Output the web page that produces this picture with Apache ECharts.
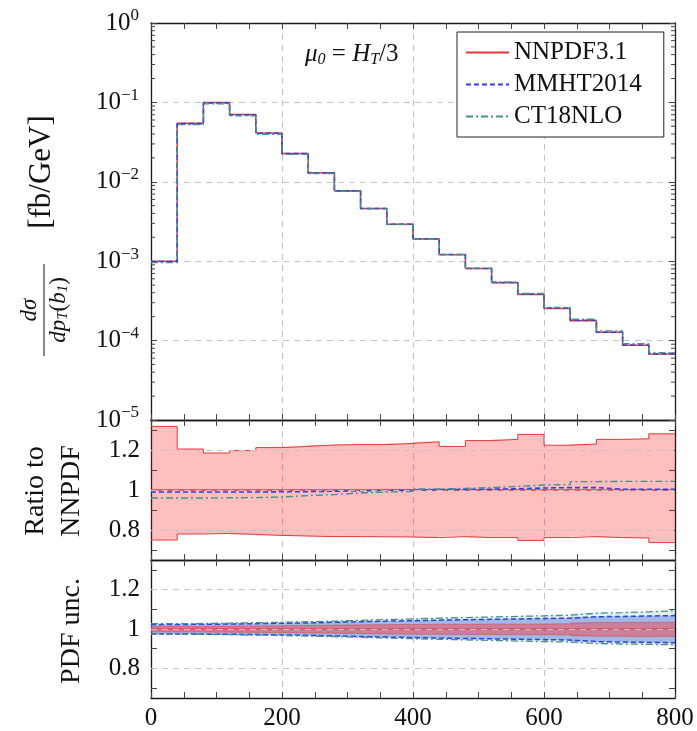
<!DOCTYPE html>
<html><head><meta charset="utf-8">
<script src="https://cdn.jsdelivr.net/npm/echarts@6/dist/echarts.min.js"></script>
<style>html,body{margin:0;padding:0;background:#fff}#c{width:697px;height:731px}</style>
</head><body><div id="c"></div>
<script>
// ---------- data ----------
const binEdges = [0,40,80,120,160,200,240,280,320,360,400,440,480,520,560,600,640,680,720,760,800];
const nnpdf = [1.0e-3,0.0546,0.0997,0.0703,0.0412,0.0228,0.0130,0.00772,0.00461,0.00292,0.00191,0.00121,0.000807,0.000537,0.000382,0.000254,0.000178,0.000127,0.0000877,0.0000676];
const ratioNNPDF = [1,1,1,1,1,1,1,1,1,1,1,1,1,1,1,1,1,1,1,1];
const ratioMMHT = [0.99,0.99,0.99,0.99,0.991,0.992,0.994,0.996,0.998,0.999,1.002,1.003,1.004,1.006,1.01,1.012,1.012,1.004,1.003,1.003];
const ratioCT18 = [0.96,0.96,0.961,0.962,0.965,0.972,0.977,0.985,0.99,0.993,1.005,1.008,1.012,1.018,1.025,1.027,1.042,1.043,1.043,1.043];
const scaleUp = [1.318,1.205,1.185,1.197,1.212,1.218,1.225,1.227,1.227,1.233,1.241,1.218,1.247,1.253,1.278,1.224,1.23,1.253,1.256,1.281];
const scaleDown = [0.75,0.78,0.783,0.778,0.773,0.77,0.767,0.767,0.766,0.765,0.762,0.767,0.762,0.762,0.748,0.762,0.767,0.762,0.76,0.737];
const nnpdfPdfUp = [1.013,1.013,1.014,1.015,1.016,1.018,1.019,1.021,1.022,1.023,1.024,1.024,1.025,1.025,1.025,1.026,1.033,1.033,1.034,1.034];
const nnpdfPdfDown = [0.985,0.985,0.984,0.983,0.982,0.98,0.979,0.977,0.975,0.974,0.973,0.973,0.972,0.971,0.971,0.97,0.963,0.963,0.962,0.962];
const mmhtPdfUp = [1.023,1.024,1.025,1.027,1.029,1.031,1.034,1.037,1.04,1.042,1.045,1.047,1.049,1.051,1.053,1.055,1.062,1.064,1.066,1.068];
const mmhtPdfDown = [0.975,0.974,0.973,0.972,0.97,0.968,0.965,0.962,0.959,0.957,0.954,0.952,0.95,0.948,0.946,0.944,0.936,0.934,0.932,0.93];
const ct18PdfUp = [1.027,1.028,1.03,1.032,1.034,1.037,1.04,1.044,1.048,1.051,1.055,1.058,1.061,1.064,1.067,1.07,1.08,1.083,1.087,1.092];
const ct18PdfDown = [0.974,0.973,0.971,0.969,0.967,0.964,0.961,0.958,0.954,0.951,0.948,0.945,0.942,0.939,0.936,0.934,0.926,0.924,0.922,0.92];
const ratioTickValues = [0.7,0.8,0.9,1,1.1,1.2,1.3];
const ratioLabelValues = [0.8,1,1.2];
const ratioGridValues = [0.8,1,1.2];
const logMinorMantissas = [2,3,4,5,6,7,8,9];
const logDecades = [1e-5,1e-4,1e-3,1e-2,1e-1];
const legendNames = ['NNPDF3.1','MMHT2014','CT18NLO'];

// ---------- helpers ----------
const FONT = 'Liberation Serif';
const RED = '#e23a3a', BLUE = '#2f3fe0', TEAL = '#43918b';
const stepData = vals => vals.map((v,i)=>[binEdges[i], v]).concat([[binEdges[binEdges.length-1], vals[vals.length-1]]]);
const mul = (a,b) => a.map((v,i)=>v*b[i]);
const minorLogTicks = [];
logDecades.forEach(d => logMinorMantissas.forEach(m => minorLogTicks.push([0, m*d])));

const grids = [
  {left:151, top:23, width:524, height:397},
  {left:151, top:420, width:524, height:140},
  {left:151, top:560, width:524, height:140}
];
const axisLineStyle = {color:'#1a1a1a', width:1.3};
const xAxes = [];
grids.forEach((g, gi) => {
  ['bottom','top'].forEach(pos => {
    xAxes.push({
      type:'value', gridIndex:gi, position:pos, min:0, max:800, interval:200,
      axisLine:{show:true, onZero:false, lineStyle:axisLineStyle},
      axisTick:{show:true, inside:true, length:6, lineStyle:{color:'#444', width:1}},
      minorTick:{show:true, splitNumber:4, length:6, lineStyle:{color:'#444', width:1}},
      splitLine:{show: pos==='bottom', lineStyle:{type:[6,5], color:'#c4c4c4', width:1.1}},
      axisLabel:{show: gi===2 && pos==='bottom', fontFamily:FONT, fontSize:25, color:'#111', margin:8}
    });
  });
});
const supRich = {
  b:{fontFamily:FONT, fontSize:25, color:'#111'},
  s:{fontFamily:FONT, fontSize:17, color:'#111', padding:[0,0,14,0]}
};
const yAxes = [];
['left','right'].forEach(pos => {
  yAxes.push({
    type:'log', logBase:10, gridIndex:0, position:pos, min:1e-5, max:1,
    axisLine:{show:true, onZero:false, lineStyle:axisLineStyle},
    axisTick:{show:true, inside:true, length:6, lineStyle:{color:'#444', width:1}},
    splitLine:{show: pos==='left', lineStyle:{type:[6,5], color:'#c4c4c4', width:1.1}},
    axisLabel:{show: pos==='left', margin:12, rich:supRich,
      formatter: v => { const e = Math.round(Math.log10(v)); return '{b|10}{s|' + (e<0 ? '\u2212' + (-e) : e) + '}'; }}
  });
});
[1,2].forEach(gi => {
  ['left','right'].forEach(pos => {
    yAxes.push({
      type:'value', gridIndex:gi, position:pos, min:0.65, max:1.35,
      axisLine:{show:true, onZero:false, lineStyle:axisLineStyle},
      axisTick:{show:true, inside:true, length:6, customValues:ratioTickValues, lineStyle:{color:'#444', width:1}},
      splitLine:{show:false},
      axisLabel:{show: pos==='left', customValues:ratioLabelValues, margin:11, fontFamily:FONT, fontSize:25, color:'#111',
        formatter: v => (Math.abs(v-1)<1e-9 ? '1' : v.toFixed(1))}
    });
  });
});
const gridMarkLine = {
  silent:true, symbol:'none', label:{show:false},
  lineStyle:{type:[6,5], color:'#c4c4c4', width:1.1},
  data: ratioGridValues.map(v=>({yAxis:v}))
};
function line(name, gi, data, color, type, width, extra) {
  return Object.assign({
    name, type:'line', xAxisIndex:2*gi, yAxisIndex:2*gi, data:stepData(data), step:'end',
    symbol:'none', showSymbol:false, animation:false,
    lineStyle:{color, type, width}, itemStyle:{color}
  }, extra || {});
}
function bandFill(name, gi, up, down, fill) {
  return {
    name, type:'custom', xAxisIndex:2*gi, yAxisIndex:2*gi, silent:true, animation:false,
    data: up.map((u,i)=>[binEdges[i], binEdges[i+1], down[i], u]),
    encode:{x:[0,1], y:[2,3]},
    renderItem:(params, api) => {
      const p0 = api.coord([api.value(0), api.value(3)]);
      const p1 = api.coord([api.value(1), api.value(2)]);
      const x0 = Math.round(p0[0]), x1 = Math.round(p1[0]);
      return {type:'rect', shape:{x:x0, y:p0[1], width:x1-x0, height:p1[1]-p0[1]}, style:{fill}};
    }
  };
}
const series = [
  // top panel
  line('NNPDF3.1', 0, nnpdf, RED, 'solid', 1.5),
  line('MMHT2014', 0, mul(nnpdf, ratioMMHT), BLUE, [5,3], 1.6),
  line('CT18NLO', 0, mul(nnpdf, ratioCT18), TEAL, [7,3,2,3], 1.4),
  {
    name:'logMinor', type:'custom', xAxisIndex:0, yAxisIndex:0, data:minorLogTicks, silent:true, animation:false,
    renderItem:(params, api) => {
      const v = api.value(1);
      const a = api.coord([0, v]), b = api.coord([800, v]);
      return {type:'group', children:[
        {type:'line', shape:{x1:a[0], y1:a[1], x2:a[0]+4, y2:a[1]}, style:{stroke:'#444', lineWidth:1}},
        {type:'line', shape:{x1:b[0]-4, y1:b[1], x2:b[0], y2:b[1]}, style:{stroke:'#444', lineWidth:1}}
      ]};
    }
  },
  // middle panel
  bandFill('scale-fill', 1, scaleUp, scaleDown, 'rgba(255,0,0,0.25)'),
  line('scale-up', 1, scaleUp, RED, 'solid', 1, {markLine:gridMarkLine}),
  line('scale-down', 1, scaleDown, RED, 'solid', 1),
  line('nn-ratio', 1, ratioNNPDF, RED, 'solid', 1.4),
  line('mmht-ratio', 1, ratioMMHT, BLUE, [5,3], 1.6),
  line('ct18-ratio', 1, ratioCT18, TEAL, [7,3,2,3], 1.4),
  // bottom panel
  bandFill('ct-fill', 2, ct18PdfUp, ct18PdfDown, 'rgba(95,165,165,0.18)'),
  bandFill('mm-fill', 2, mmhtPdfUp, mmhtPdfDown, 'rgba(80,120,220,0.45)'),
  bandFill('nn-fill', 2, nnpdfPdfUp, nnpdfPdfDown, 'rgba(245,70,80,0.5)'),
  line('nn-pdf-up', 2, nnpdfPdfUp, 'rgba(226,58,58,0.6)', 'solid', 0.8, {markLine:gridMarkLine}),
  line('nn-pdf-down', 2, nnpdfPdfDown, 'rgba(226,58,58,0.6)', 'solid', 0.8),
  line('nn-pdf-c', 2, ratioNNPDF, RED, 'solid', 1),
  line('mm-pdf-up', 2, mmhtPdfUp, BLUE, [5,3], 1.5),
  line('mm-pdf-down', 2, mmhtPdfDown, BLUE, [5,3], 1.5),
  line('ct-pdf-up', 2, ct18PdfUp, TEAL, [7,3,2,3], 1.3),
  line('ct-pdf-down', 2, ct18PdfDown, TEAL, [7,3,2,3], 1.3)
];

const chart = echarts.init(document.getElementById('c'), null, {renderer:'canvas'});
chart.setOption({
  animation:false,
  backgroundColor:'#fff',
  grid:grids,
  xAxis:xAxes,
  yAxis:yAxes,
  legend:{
    data:legendNames, left:457, top:32, orient:'vertical', selectedMode:false,
    itemWidth:43, itemHeight:14, itemGap:7, padding:[8,22,8,8],
    borderColor:'#222', borderWidth:1, backgroundColor:'#fff',
    itemStyle:{opacity:0},
    textStyle:{fontFamily:FONT, fontSize:25, color:'#111'}
  },
  graphic:[
    {type:'text', left:305, top:42, z:10, style:{
      text:'{i|\u03bc}{s|0}{n| = }{i|H}{s|T}{n|/3}',
      rich:{
        i:{fontFamily:FONT, fontStyle:'italic', fontSize:25, fill:'#111'},
        n:{fontFamily:FONT, fontSize:25, fill:'#111'},
        s:{fontFamily:FONT, fontStyle:'italic', fontSize:16, fill:'#111', padding:[10,0,0,0]}
      }}},
    {type:'group', x:44, y:232, rotation:Math.PI/2, z:10, children:[
      {type:'text', x:-78, y:-14, style:{text:'d\u03c3', font:'italic 23px "Liberation Serif"', fill:'#111', align:'center', verticalAlign:'middle', textAlign:'center', textVerticalAlign:'middle'}},
      {type:'text', x:-78, y:15, style:{text:'{i|dp}{s|T}{n|(}{i|b}{s|1}{n|)}', align:'center', verticalAlign:'middle', textAlign:'center', textVerticalAlign:'middle',
        rich:{
          i:{fontFamily:FONT, fontStyle:'italic', fontSize:23, fill:'#111'},
          n:{fontFamily:FONT, fontSize:23, fill:'#111'},
          s:{fontFamily:FONT, fontStyle:'italic', fontSize:15, fill:'#111', padding:[9,0,0,0]}
        }}},
      {type:'line', shape:{x1:-124, y1:0, x2:-32, y2:0}, style:{stroke:'#111', lineWidth:1}},
      {type:'text', x:60, y:-2, style:{text:'[fb/GeV]', font:'31px "Liberation Serif"', fill:'#111', align:'center', verticalAlign:'middle', textAlign:'center', textVerticalAlign:'middle'}}
    ]},
    {type:'text', x:36, y:491, rotation:Math.PI/2, z:10, style:{text:'Ratio to', font:'28px "Liberation Serif"', fill:'#111', align:'center', verticalAlign:'middle', textAlign:'center', textVerticalAlign:'middle'}},
    {type:'text', x:72, y:491, rotation:Math.PI/2, z:10, style:{text:'NNPDF', font:'28px "Liberation Serif"', fill:'#111', align:'center', verticalAlign:'middle', textAlign:'center', textVerticalAlign:'middle'}},
    {type:'text', x:72, y:631, rotation:Math.PI/2, z:10, style:{text:'PDF unc.', font:'28px "Liberation Serif"', fill:'#111', align:'center', verticalAlign:'middle', textAlign:'center', textVerticalAlign:'middle'}}
  ],
  series
});
</script>
</body></html>
